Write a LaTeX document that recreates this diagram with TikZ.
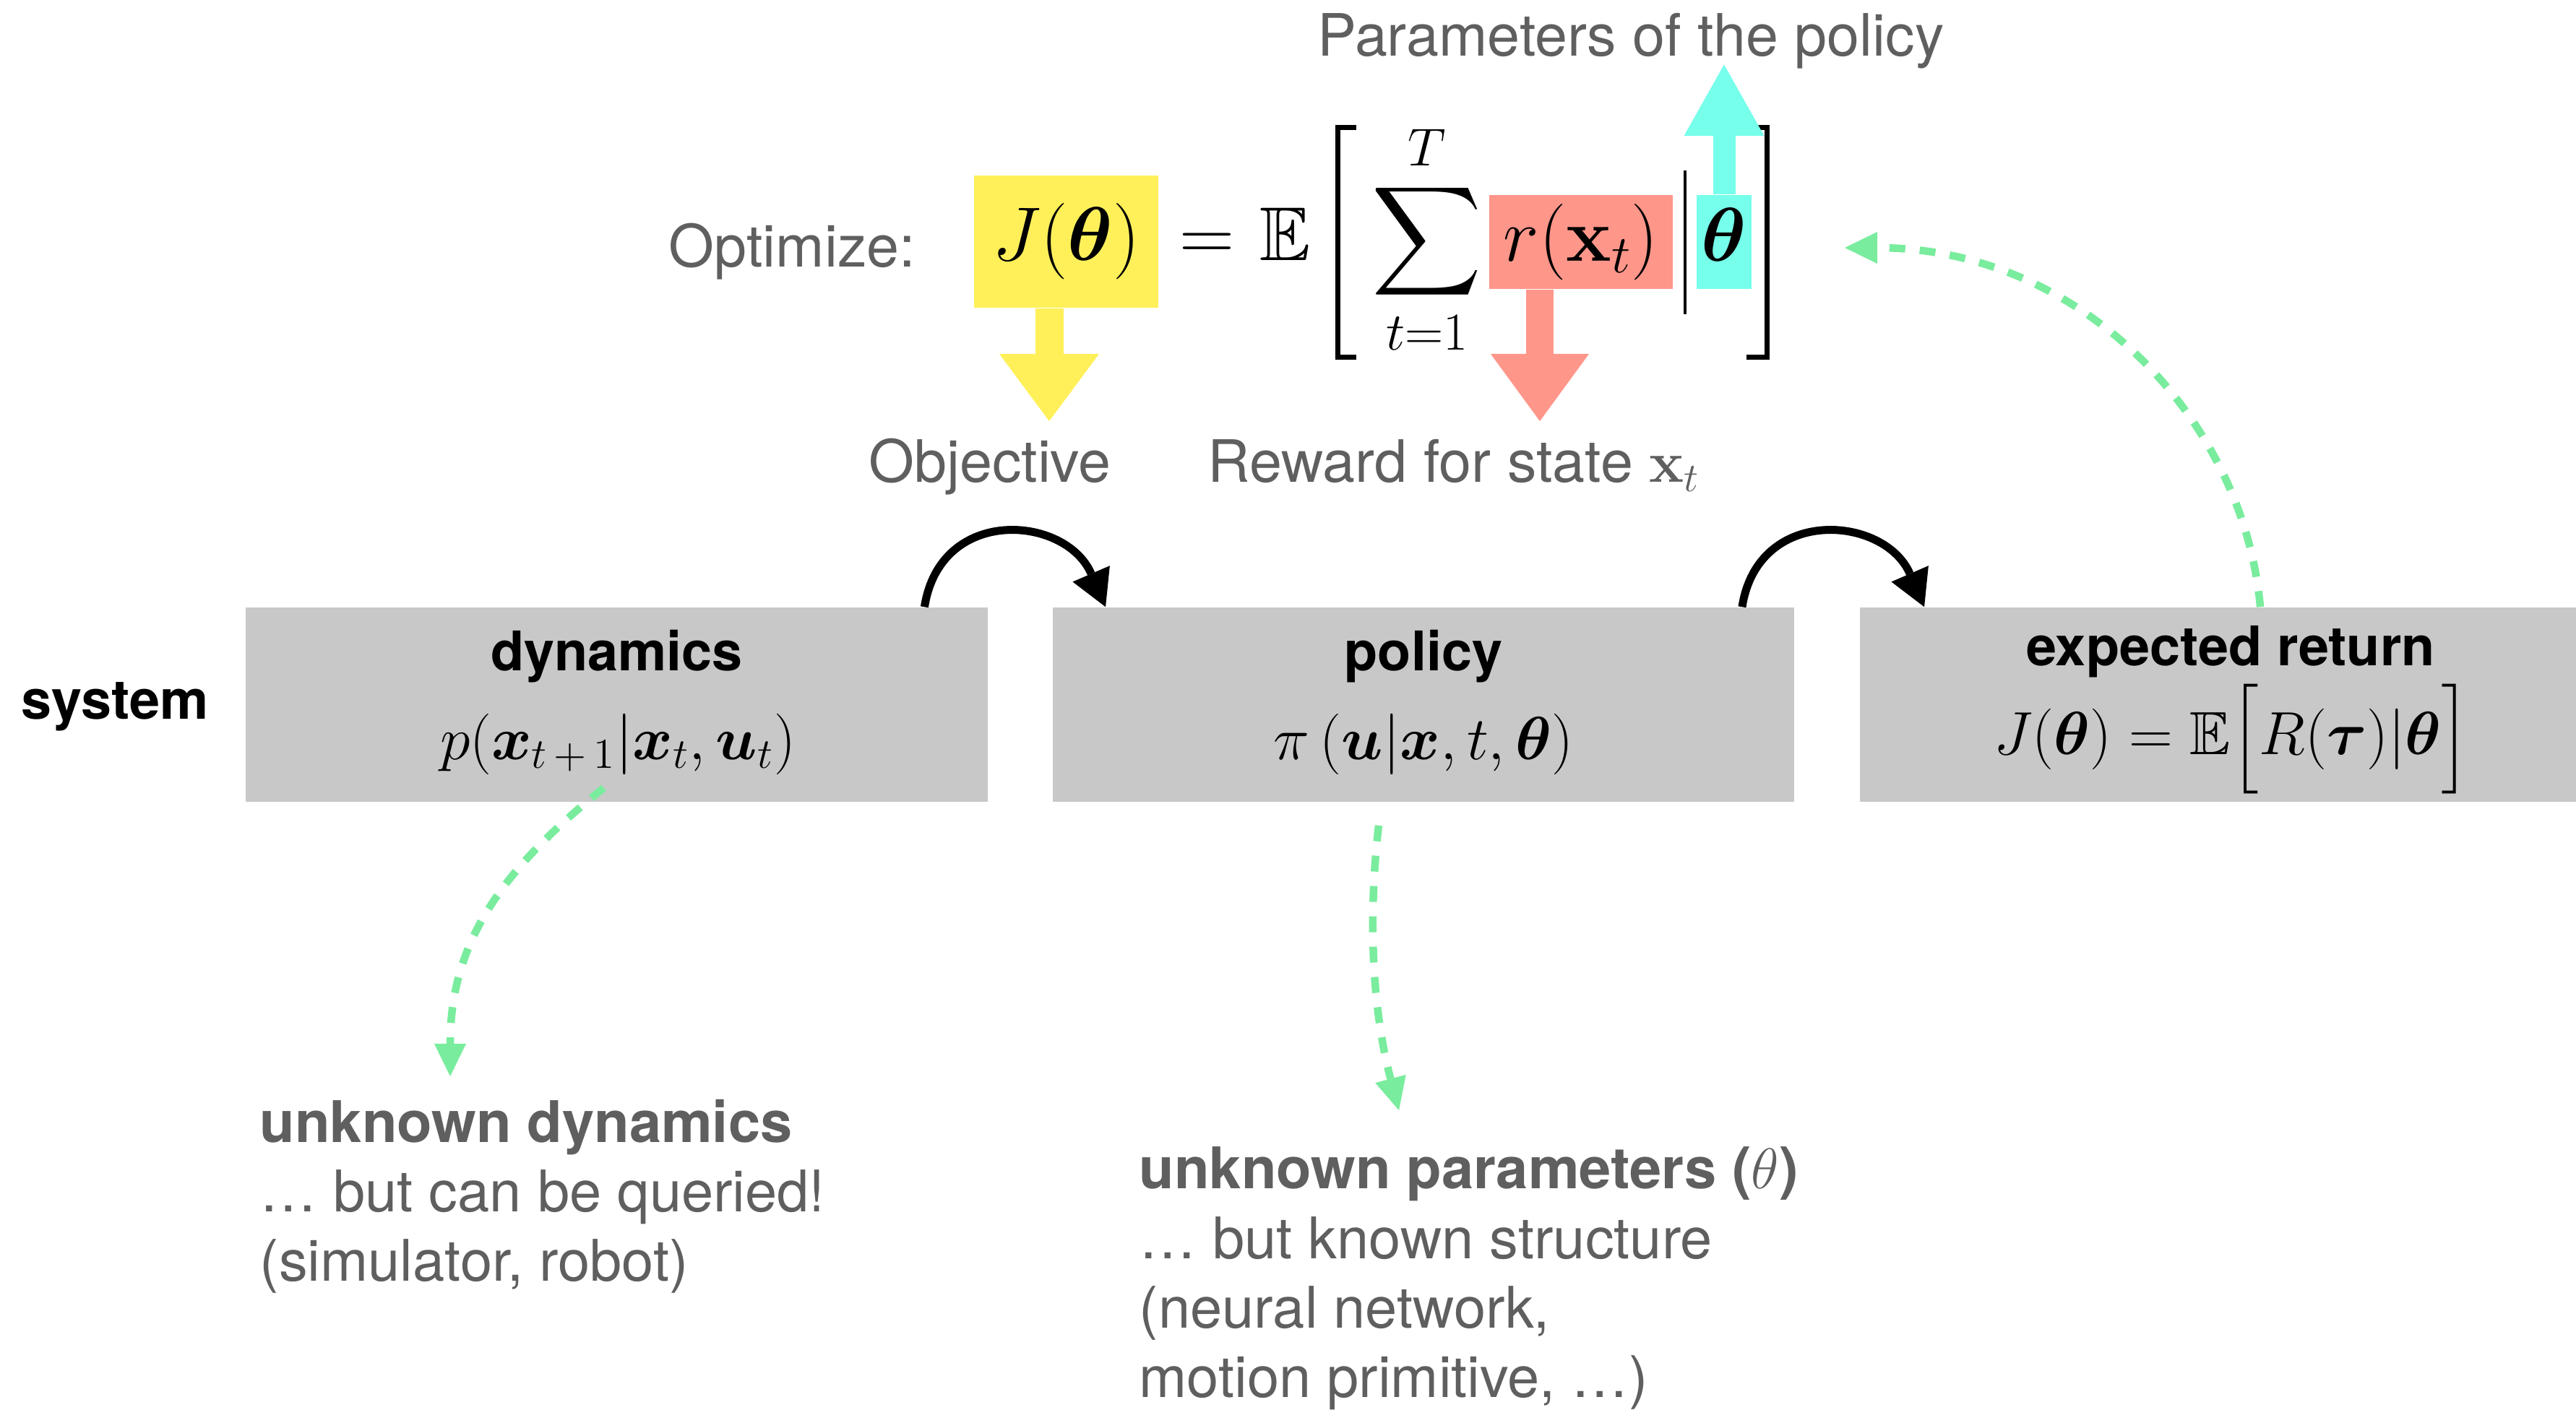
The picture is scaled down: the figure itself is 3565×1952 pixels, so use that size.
\RequirePackage{fix-cm}
\documentclass[tikz,border=0pt]{standalone}
\usepackage{amsmath,amssymb}
\usepackage[no-math]{fontspec}
\newfontfamily\hel{TeX Gyre Heros}
\usetikzlibrary{arrows.meta}

\definecolor{boxgrey}{RGB}{200,200,200}
\definecolor{labelgrey}{RGB}{95,95,95}
\definecolor{hlyellow}{RGB}{255,240,90}
\definecolor{hlsalmon}{RGB}{255,150,138}
\definecolor{hlcyan}{RGB}{118,255,234}
\definecolor{linkgreen}{RGB}{122,236,158}

\begin{document}
\begin{tikzpicture}[x=0.01cm, y=-0.01cm,
  block/.style={fill=boxgrey, inner sep=0, minimum width=10.26cm, minimum height=2.69cm},
  title/.style={font=\hel\bfseries\fontsize{21.5}{26}\selectfont, anchor=base, inner sep=0},
  boxmath/.style={font=\fontsize{24}{29}\selectfont, anchor=base, inner sep=0},
  topmath/.style={font=\fontsize{30}{36}\selectfont, anchor=base, inner sep=0},
  hl/.style={inner sep=0, font=\fontsize{30}{36}\selectfont, text height=22.5pt, text depth=7.5pt},
  caption/.style={font=\hel\fontsize{23}{28}\selectfont, text=labelgrey, inner sep=0},
  note/.style={font=\hel\fontsize{22.6}{27.3}\selectfont, text=labelgrey, inner sep=0, align=left, anchor=base west},
  flow/.style={line width=0.11cm, -{Triangle[length=0.5cm, width=0.56cm, line width=0pt]}},
  link/.style={linkgreen, line width=0.105cm, dash pattern=on 0.22cm off 0.2cm,
               -{Triangle[length=0.45cm, width=0.44cm, line width=0pt]}},
  bracket/.style={line width=0.07cm}
]
\useasboundingbox (0,0) rectangle (3565,1952);

% ---------- objective formula ----------
\node[caption, anchor=base west] (optlab) at (925,370) {Optimize:};

\node[hl, fill=hlyellow, minimum width=2.55cm, minimum height=1.83cm] (jbox) at (1475.5,334.5)
  {$J(\boldsymbol{\theta})$};
\node[topmath] (eqsign) at (1670,361) {$=$};
\node[topmath] (expect) at (1779,361) {$\mathbb{E}$};
\draw[bracket] (1877,177) -- (1851,177) -- (1851,495) -- (1877,495);
\node[topmath] (sum) at (1975,361) {$\displaystyle\sum_{t=1}^{T}$};
\node[hl, fill=hlsalmon, minimum width=2.54cm, minimum height=1.3cm] (rbox) at (2188,335)
  {$r(\mathbf{x}_t)$};
\draw[line width=0.04cm] (2332,236) -- (2332,435);
\node[hl, fill=hlcyan, minimum width=0.76cm, minimum height=1.3cm] (thbox) at (2386,335)
  {$\boldsymbol{\theta}$};
\draw[bracket] (2417,177) -- (2445,177) -- (2445,495) -- (2417,495);

% labels of the highlighted terms
\node[caption, anchor=base] (objlab) at (1370,668) {Objective};
\node[caption, anchor=base] (rewlab) at (2012,668) {Reward for state $\mathbf{x}_t$};
\node[caption, anchor=base] (parlab) at (2257,78) {Parameters of the policy};

\coordinate (objtip) at (1452,583);
\coordinate (rewtip) at (2131,583);
\coordinate (partip) at (2386,89.5);
\draw[hlyellow, line width=0.39cm, -{Triangle[length=0.93cm, width=1.38cm, line width=0pt]}]
  (jbox.south -| objtip) -- (objtip);
\draw[hlsalmon, line width=0.38cm, -{Triangle[length=0.93cm, width=1.36cm, line width=0pt]}]
  (rbox.south -| rewtip) -- (rewtip);
\draw[hlcyan, line width=0.31cm, -{Triangle[length=0.985cm, width=1.11cm, line width=0pt]}]
  (thbox.north -| partip) -- (partip);

% ---------- system blocks ----------
\node[title, anchor=base] (system) at (159,995) {system};

\node[block] (dyn) at (853.5,975.5) {};
\node[block] (pol) at (1970,975.5) {};
\node[block] (ret) at (3087,975.5) {};

\node[title] (dyntitle) at (853.5,928) {dynamics};
\node[boxmath] (dynmath) at (855,1051)
  {$p(\boldsymbol{x}_{t\,+\,1}|\boldsymbol{x}_t,\boldsymbol{u}_t)$};
\node[title] (poltitle) at (1970,928) {policy};
\node[boxmath] (polmath) at (1970,1051)
  {$\pi\left(\boldsymbol{u}\middle|\boldsymbol{x},t,\boldsymbol{\theta}\right)$};
\node[title] (rettitle) at (3087,922) {expected return};
\node[boxmath] (retmath) at (3089,1044)
  {$J(\boldsymbol{\theta})=\mathbb{E}\Bigl[R(\boldsymbol{\tau})|\boldsymbol{\theta}\Bigr]$};

% sequence arrows between the blocks
\draw[flow] ([xshift=-0.88cm]dyn.north east)
  .. controls +(22,-141) and +(-55,-127) .. ([xshift=0.74cm]pol.north west);
\draw[flow] ([xshift=-0.73cm]pol.north east)
  .. controls +(22,-141) and +(-55,-127) .. ([xshift=0.9cm]ret.north west);

% ---------- notes (anchored at the baseline of their last line) ----------
\node[note] (dynnote) at (359,1773)
  {\bfseries unknown dynamics\\… but can be queried!\\(simulator, robot)};
\node[note] (polnote) at (1576,1934)
  {\bfseries unknown parameters ($\theta$)\\… but known structure\\(neural network,\\motion primitive, …)};

\coordinate (dyntip) at (623,1490);
\coordinate (poltip) at (1936,1537);
\coordinate (backtip) at (2553,343);

\draw[link] ([xshift=-0.18cm, yshift=0.2cm]dyn.south)
  .. controls (700,1200) and (623,1300) .. (dyntip);
\draw[link] ([xshift=-0.62cm, yshift=-0.32cm]pol.south)
  .. controls (1890,1300) and (1905,1420) .. (poltip);
\draw[link] ([xshift=0.41cm]ret.north)
  .. controls (3105,580) and (2880,343) .. (backtip);
\end{tikzpicture}
\end{document}
